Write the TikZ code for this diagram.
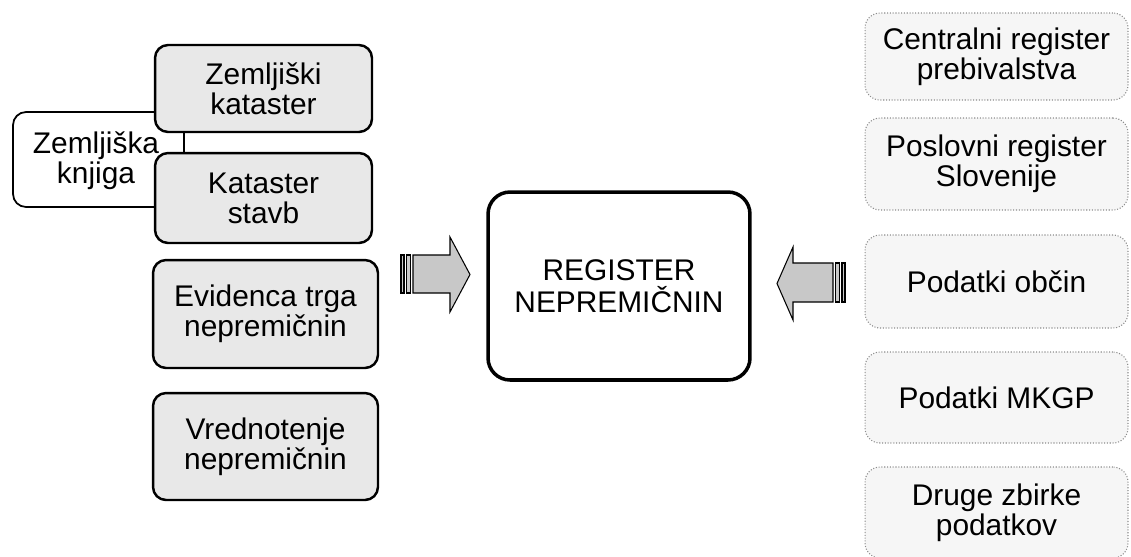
\documentclass[tikz,border=0pt]{standalone}
\usepackage{fontspec}
\setmainfont{Liberation Sans}
\usepackage{tikz}
\usetikzlibrary{positioning,calc}
\definecolor{BoxGray}{RGB}{232,232,232}
\definecolor{ExtGray}{RGB}{246,246,246}
\definecolor{ArrowGray}{RGB}{200,200,200}
\tikzset{
	src/.style={draw=black,fill=BoxGray,line width=1.4pt,rounded corners=0.26cm,
		align=center,inner sep=2pt,font=\fontsize{17}{17}\selectfont},
	book/.style={src,fill=white,line width=1pt},
	core/.style={draw=black,fill=white,line width=2pt,rounded corners=0.44cm,
		align=center,minimum width=5.24cm,minimum height=3.76cm,font=\fontsize{17}{18}\selectfont},
	ext/.style={draw=black!45,densely dotted,fill=ExtGray,line width=0.6pt,rounded corners=0.3cm,
		align=center,minimum width=5.26cm,font=\fontsize{17}{17}\selectfont},
	blockarrow/.style={draw=black,fill=ArrowGray,line width=0.6pt},
}
\begin{document}
\begin{tikzpicture}[x=0.02cm,y=-0.02cm]
					\useasboundingbox (0,0) rectangle (1131,556);
					% left side: sources
					\node[book,minimum width=3.42cm,minimum height=1.90cm] (knjiga) at (98.5,159.5) {};
					\node (knjigatext) at (96,161) [align=center,font=\fontsize{17}{17}\selectfont] {Zemljiška\\knjiga};
					\node[src,minimum width=4.34cm,minimum height=1.74cm] (zkat) at (263.5,88.5) {Zemljiški\\kataster};
					\node[src,minimum width=4.34cm,minimum height=1.80cm] (kstavb) at (263.5,198) {Kataster\\stavb};
					\node[src,minimum width=4.50cm,minimum height=2.16cm] (etn) at (265.5,314) {Evidenca trga\\nepremičnin};
					\node[src,minimum width=4.50cm,minimum height=2.14cm] (vred) at (265.5,446.5) {Vrednotenje\\nepremičnin};
					% centre
					\node[core] (reg) at (619,286) {REGISTER\\NEPREMIČNIN};
					% right side: other records
					\node[ext,minimum height=1.74cm] (crp) at (996.5,56.5) {Centralni register\\prebivalstva};
					\node[ext,minimum height=1.84cm] (prs) at (996.5,164) {Poslovni register\\Slovenije};
					\node[ext,minimum height=1.86cm] (obc) at (996.5,281.5) {Podatki občin};
					\node[ext,minimum height=1.82cm] (mkgp) at (996.5,397.5) {Podatki MKGP};
					\node[ext,minimum height=1.82cm] (druge) at (996.5,512.5) {Druge zbirke\\podatkov};
					% striped block arrows
					\draw[blockarrow] (401,255) rectangle (404,293);
					\draw[blockarrow] (406.5,255) rectangle (410.5,293);
					\draw[blockarrow] (413,255) -- (450,255) -- (450,237) -- (470,274.5)
						-- (450,312) -- (450,293) -- (413,293) -- cycle;
					\draw[blockarrow] (842,263) rectangle (845,302);
					\draw[blockarrow] (835.5,263) rectangle (839.5,302);
					\draw[blockarrow] (833,263) -- (793,263) -- (793,247) -- (777,283.5)
						-- (793,320) -- (793,302) -- (833,302) -- cycle;
				\end{tikzpicture}
\end{document}
